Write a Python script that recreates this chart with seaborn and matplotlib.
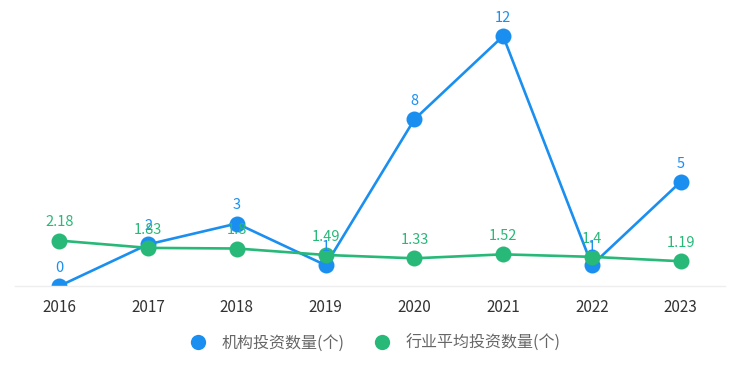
import matplotlib
matplotlib.use("Agg")
import matplotlib.pyplot as plt
from matplotlib.lines import Line2D
import pandas as pd
import seaborn as sns

years = ["2016", "2017", "2018", "2019", "2020", "2021", "2022", "2023"]
org_counts = [0, 2, 3, 1, 8, 12, 1, 5]
industry_avg = [2.18, 1.83, 1.8, 1.49, 1.33, 1.52, 1.4, 1.19]
series_names = ["机构投资数量(个)", "行业平均投资数量(个)"]
colors = ["#1a8ff0", "#28b878"]

sns.set_theme(style="white")
plt.rcParams["font.family"] = ["Noto Sans CJK SC", "DejaVu Sans"]

df = pd.DataFrame({
    "year": years * 2,
    "value": org_counts + industry_avg,
    "series": [series_names[0]] * len(years) + [series_names[1]] * len(years),
})
df["x"] = list(range(len(years))) * 2

fig = plt.figure(figsize=(7.35, 3.7), dpi=100)
ax = fig.add_axes([15 / 735, 84 / 370, 710 / 735, 277 / 370])

sns.lineplot(data=df, x="x", y="value", hue="series", palette=colors,
             marker="o", markersize=11.5, markeredgewidth=0, linewidth=1.9,
             legend=False, ax=ax)

for name, vals, c in zip(series_names, [org_counts, industry_avg], colors):
    for i, v in enumerate(vals):
        ax.annotate(f"{v:g}", (i, v), xytext=(0, 8), textcoords="offset points",
                    ha="center", va="bottom", fontsize=10.5, color=c)

ax.set_xlim(-0.5, len(years) - 0.5)
ax.set_ylim(0, 13.3)
ax.set_xticks(range(len(years)))
ax.set_xticklabels(years, fontsize=11, color="#333333")
ax.set_yticks([])
ax.set_xlabel("")
ax.set_ylabel("")
ax.tick_params(axis="x", length=0, pad=9)
for s in ["top", "right", "left"]:
    ax.spines[s].set_visible(False)
ax.spines["bottom"].set_color("#eeeeee")
ax.spines["bottom"].set_linewidth(1)

handles = [Line2D([], [], marker="o", linestyle="", markersize=11,
                  markerfacecolor=c, markeredgewidth=0) for c in colors]
fig.legend(handles, series_names, loc="center", bbox_to_anchor=(0.505, 1 - 343 / 370),
           ncol=2, frameon=False, fontsize=11.5, labelcolor="#666666",
           handletextpad=0.5, columnspacing=1.3)

fig.savefig("out.png", dpi=100)
